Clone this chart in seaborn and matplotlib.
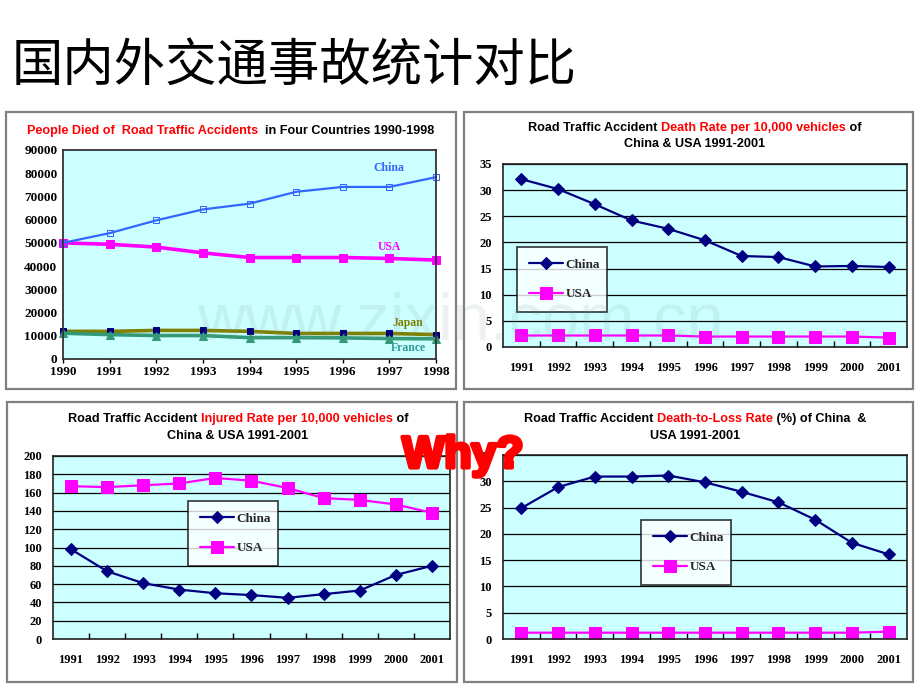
import numpy as np
import pandas as pd
import matplotlib
matplotlib.use('Agg')
import matplotlib.pyplot as plt
import matplotlib.patheffects as pe
from matplotlib.patches import Rectangle
from matplotlib.ticker import MultipleLocator
import seaborn as sns

sns.set_theme(style='white')
plt.rcParams['font.family'] = ['Liberation Sans', 'DejaVu Sans']

W, H = 920, 690

# --- data ---
years_a = [1990, 1991, 1992, 1993, 1994, 1995, 1996, 1997, 1998]
deaths_china = [50000, 54200, 59700, 64400, 66900, 72000, 74100, 74100, 78300]
deaths_usa = [50000, 49400, 48200, 45700, 43700, 43700, 43700, 43300, 42600]
deaths_japan = [11900, 11900, 12300, 12300, 11900, 11000, 11000, 11000, 10500]
deaths_france = [11100, 10500, 10100, 10100, 9200, 9200, 9100, 8800, 8700]

years_b = [1991, 1992, 1993, 1994, 1995, 1996, 1997, 1998, 1999, 2000, 2001]
death_rate_china = [32.1, 30.2, 27.3, 24.2, 22.6, 20.4, 17.4, 17.2, 15.4, 15.5, 15.3]
death_rate_usa = [2.2, 2.2, 2.2, 2.2, 2.2, 2.0, 2.0, 2.0, 2.0, 2.0, 1.8]
injured_china = [98, 74, 61, 54, 50, 48, 45, 49, 53, 70, 80]
injured_usa = [167, 166, 168, 170, 176, 173, 165, 154, 152, 147, 138]
loss_china = [24.9, 28.9, 30.9, 30.9, 31.1, 29.8, 28.0, 26.0, 22.7, 18.3, 16.1]
loss_usa = [1.2, 1.2, 1.2, 1.2, 1.2, 1.2, 1.2, 1.2, 1.2, 1.2, 1.4]

NAVY = '#000080'
MAGENTA = '#FF00FF'
BG = '#CCFFFF'
RED = '#FF0000'

fig = plt.figure(figsize=(W / 100, H / 100), dpi=100)
fig.patch.set_facecolor('white')


def px_rect(x0, y0, x1, y1):
    return [x0 / W, 1 - y1 / H, (x1 - x0) / W, (y1 - y0) / H]


def frame(x0, y0, x1, y1):
    fig.patches.append(Rectangle((x0 / W, 1 - y1 / H), (x1 - x0) / W, (y1 - y0) / H,
                                 transform=fig.transFigure, fill=False,
                                 edgecolor='#808080', lw=1.6))


def colored_line(cx, cy, pieces, size=9.1):
    r = fig.canvas.get_renderer()
    texts = [fig.text(0, 1 - cy / H, s, color=c, fontsize=size, fontweight='bold',
                      va='center', ha='left') for s, c in pieces]
    widths = [t.get_window_extent(r).width for t in texts]
    x = cx - sum(widths) / 2
    for t, w in zip(texts, widths):
        t.set_x(x / W)
        x += w


def serif_ticks(ax, size=9):
    for lab in ax.get_xticklabels() + ax.get_yticklabels():
        lab.set_family('Liberation Serif')
        lab.set_fontweight('bold')
        lab.set_fontsize(size)
        lab.set_color('black')


def rate_panel(rect, years, china, usa, ymax, ystep, leg_rect):
    ax = fig.add_axes(rect)
    ax.set_facecolor(BG)
    df = pd.DataFrame({'year': years, 'China': china, 'USA': usa})
    sns.lineplot(data=df, x='year', y='China', ax=ax, color=NAVY, lw=1.6,
                 marker='D', markersize=6, markeredgecolor=NAVY, label='China', legend=False)
    sns.lineplot(data=df, x='year', y='USA', ax=ax, color=MAGENTA, lw=1.6,
                 marker='s', markersize=8, markeredgecolor=MAGENTA, label='USA', legend=False)
    ax.set_xlim(years[0] - 0.5, years[-1] + 0.5)
    ax.set_ylim(0, ymax)
    ax.set_xticks(years)
    ax.set_xticks(np.arange(years[0] + 0.5, years[-1], 1), minor=True)
    ax.yaxis.set_major_locator(MultipleLocator(ystep))
    ax.grid(axis='y', color='black', lw=0.9)
    ax.set_axisbelow(True)
    ax.tick_params(axis='x', which='major', length=0, pad=11)
    ax.tick_params(axis='x', which='minor', direction='in', length=4, width=1, color='black', bottom=True)
    ax.tick_params(axis='y', length=0, pad=8)
    ax.set_xlabel('')
    ax.set_ylabel('')
    for s in ax.spines.values():
        s.set_color('#222222')
        s.set_linewidth(1.2)
    serif_ticks(ax)
    leg = ax.legend(loc='lower left', bbox_to_anchor=leg_rect, bbox_transform=fig.transFigure,
                    mode='expand', frameon=True, fancybox=False, borderaxespad=0,
                    prop={'family': 'Liberation Serif', 'weight': 'bold', 'size': 9.5},
                    handlelength=2.6, handletextpad=0.2, labelspacing=1.3, borderpad=0.9)
    leg.get_frame().set_edgecolor('black')
    leg.get_frame().set_linewidth(1.2)
    return ax


# main title
fig.text(12 / W, 1 - 66 / H, '国内外交通事故统计对比', fontsize=37, color='black',
         family=['Noto Sans CJK SC', 'DejaVu Sans'], va='center', ha='left')

# panel frames
frame(6, 112, 456, 389)
frame(464, 112, 913, 389)
frame(7, 402, 457, 682)
frame(464, 402, 913, 682)

# --- top left: deaths in four countries ---
ax1 = fig.add_axes(px_rect(63, 150, 436, 359))
ax1.set_facecolor(BG)
df_a = pd.DataFrame({'year': years_a, 'China': deaths_china, 'USA': deaths_usa,
                     'Japan': deaths_japan, 'France': deaths_france})
sns.lineplot(data=df_a, x='year', y='Japan', ax=ax1, color='#808000', lw=2.6,
             marker='s', markersize=5, markerfacecolor=NAVY, markeredgecolor=NAVY, clip_on=False)
sns.lineplot(data=df_a, x='year', y='France', ax=ax1, color='#339977', lw=2.6,
             marker='^', markersize=6, markeredgecolor='#339977', clip_on=False)
sns.lineplot(data=df_a, x='year', y='USA', ax=ax1, color=MAGENTA, lw=2.6,
             marker='s', markersize=6, markeredgecolor=MAGENTA, clip_on=False)
sns.lineplot(data=df_a, x='year', y='China', ax=ax1, color='#3366FF', lw=1.6,
             marker='s', markersize=4, markerfacecolor='none', markeredgecolor='#3366FF', clip_on=False)
ax1.set_xlim(1990, 1998)
ax1.set_ylim(0, 90000)
ax1.set_xticks(years_a)
ax1.yaxis.set_major_locator(MultipleLocator(10000))
ax1.tick_params(axis='x', length=3, width=1, color='black', bottom=True, pad=2)
ax1.tick_params(axis='y', length=0, pad=4)
ax1.set_xlabel('')
ax1.set_ylabel('')
for s in ax1.spines.values():
    s.set_color('#333333')
    s.set_linewidth(1.3)
serif_ticks(ax1, 9.5)
for lab, c, xy in [('China', '#3366FF', (389, 168)), ('USA', MAGENTA, (389, 247)),
                   ('Japan', '#808000', (408, 323)), ('France', '#339999', (408, 348))]:
    fig.text(xy[0] / W, 1 - xy[1] / H, lab, color=c, fontsize=8.5, fontweight='bold',
             family='Liberation Serif', ha='center', va='center')
colored_line(231, 131, [('People Died of  Road Traffic Accidents', RED),
                        ('  in Four Countries 1990-1998', 'black')])

# --- top right: death rate ---
rate_panel(px_rect(503, 164, 907, 347), years_b, death_rate_china, death_rate_usa, 35, 5,
           px_rect(517, 258, 607, 312))
colored_line(695, 128, [('Road Traffic Accident ', 'black'),
                        ('Death Rate per 10,000 vehicles', RED), (' of', 'black')])
colored_line(695, 144, [('China & USA 1991-2001', 'black')])

# --- bottom left: injured rate ---
rate_panel(px_rect(53, 456, 450, 639), years_b, injured_china, injured_usa, 200, 20,
           px_rect(188, 512, 278, 566))
colored_line(238, 419, [('Road Traffic Accident ', 'black'),
                        ('Injured Rate per 10,000 vehicles', RED), (' of', 'black')])
colored_line(238, 436, [('China & USA 1991-2001', 'black')])

# --- bottom right: death-to-loss rate ---
rate_panel(px_rect(503, 455, 907, 639), years_b, loss_china, loss_usa, 35, 5,
           px_rect(641, 531, 731, 585))
colored_line(695, 419, [('Road Traffic Accident ', 'black'), ('Death-to-Loss Rate', RED),
                        (' (%) of China  &', 'black')])
colored_line(695, 436, [('USA 1991-2001', 'black')])

# watermark
fig.text(460 / W, 1 - 322 / H, 'www.zixin.com.cn', fontsize=48, color='#7a9a9a', alpha=0.13,
         ha='center', va='center', family='Liberation Sans')

# Why?
fig.text(463 / W, 1 - 456 / H, 'Why?', fontsize=32, color=RED, fontweight='bold',
         ha='center', va='center',
         path_effects=[pe.withStroke(linewidth=3, foreground=RED)])

fig.savefig('out.png', dpi=100, facecolor='white')
